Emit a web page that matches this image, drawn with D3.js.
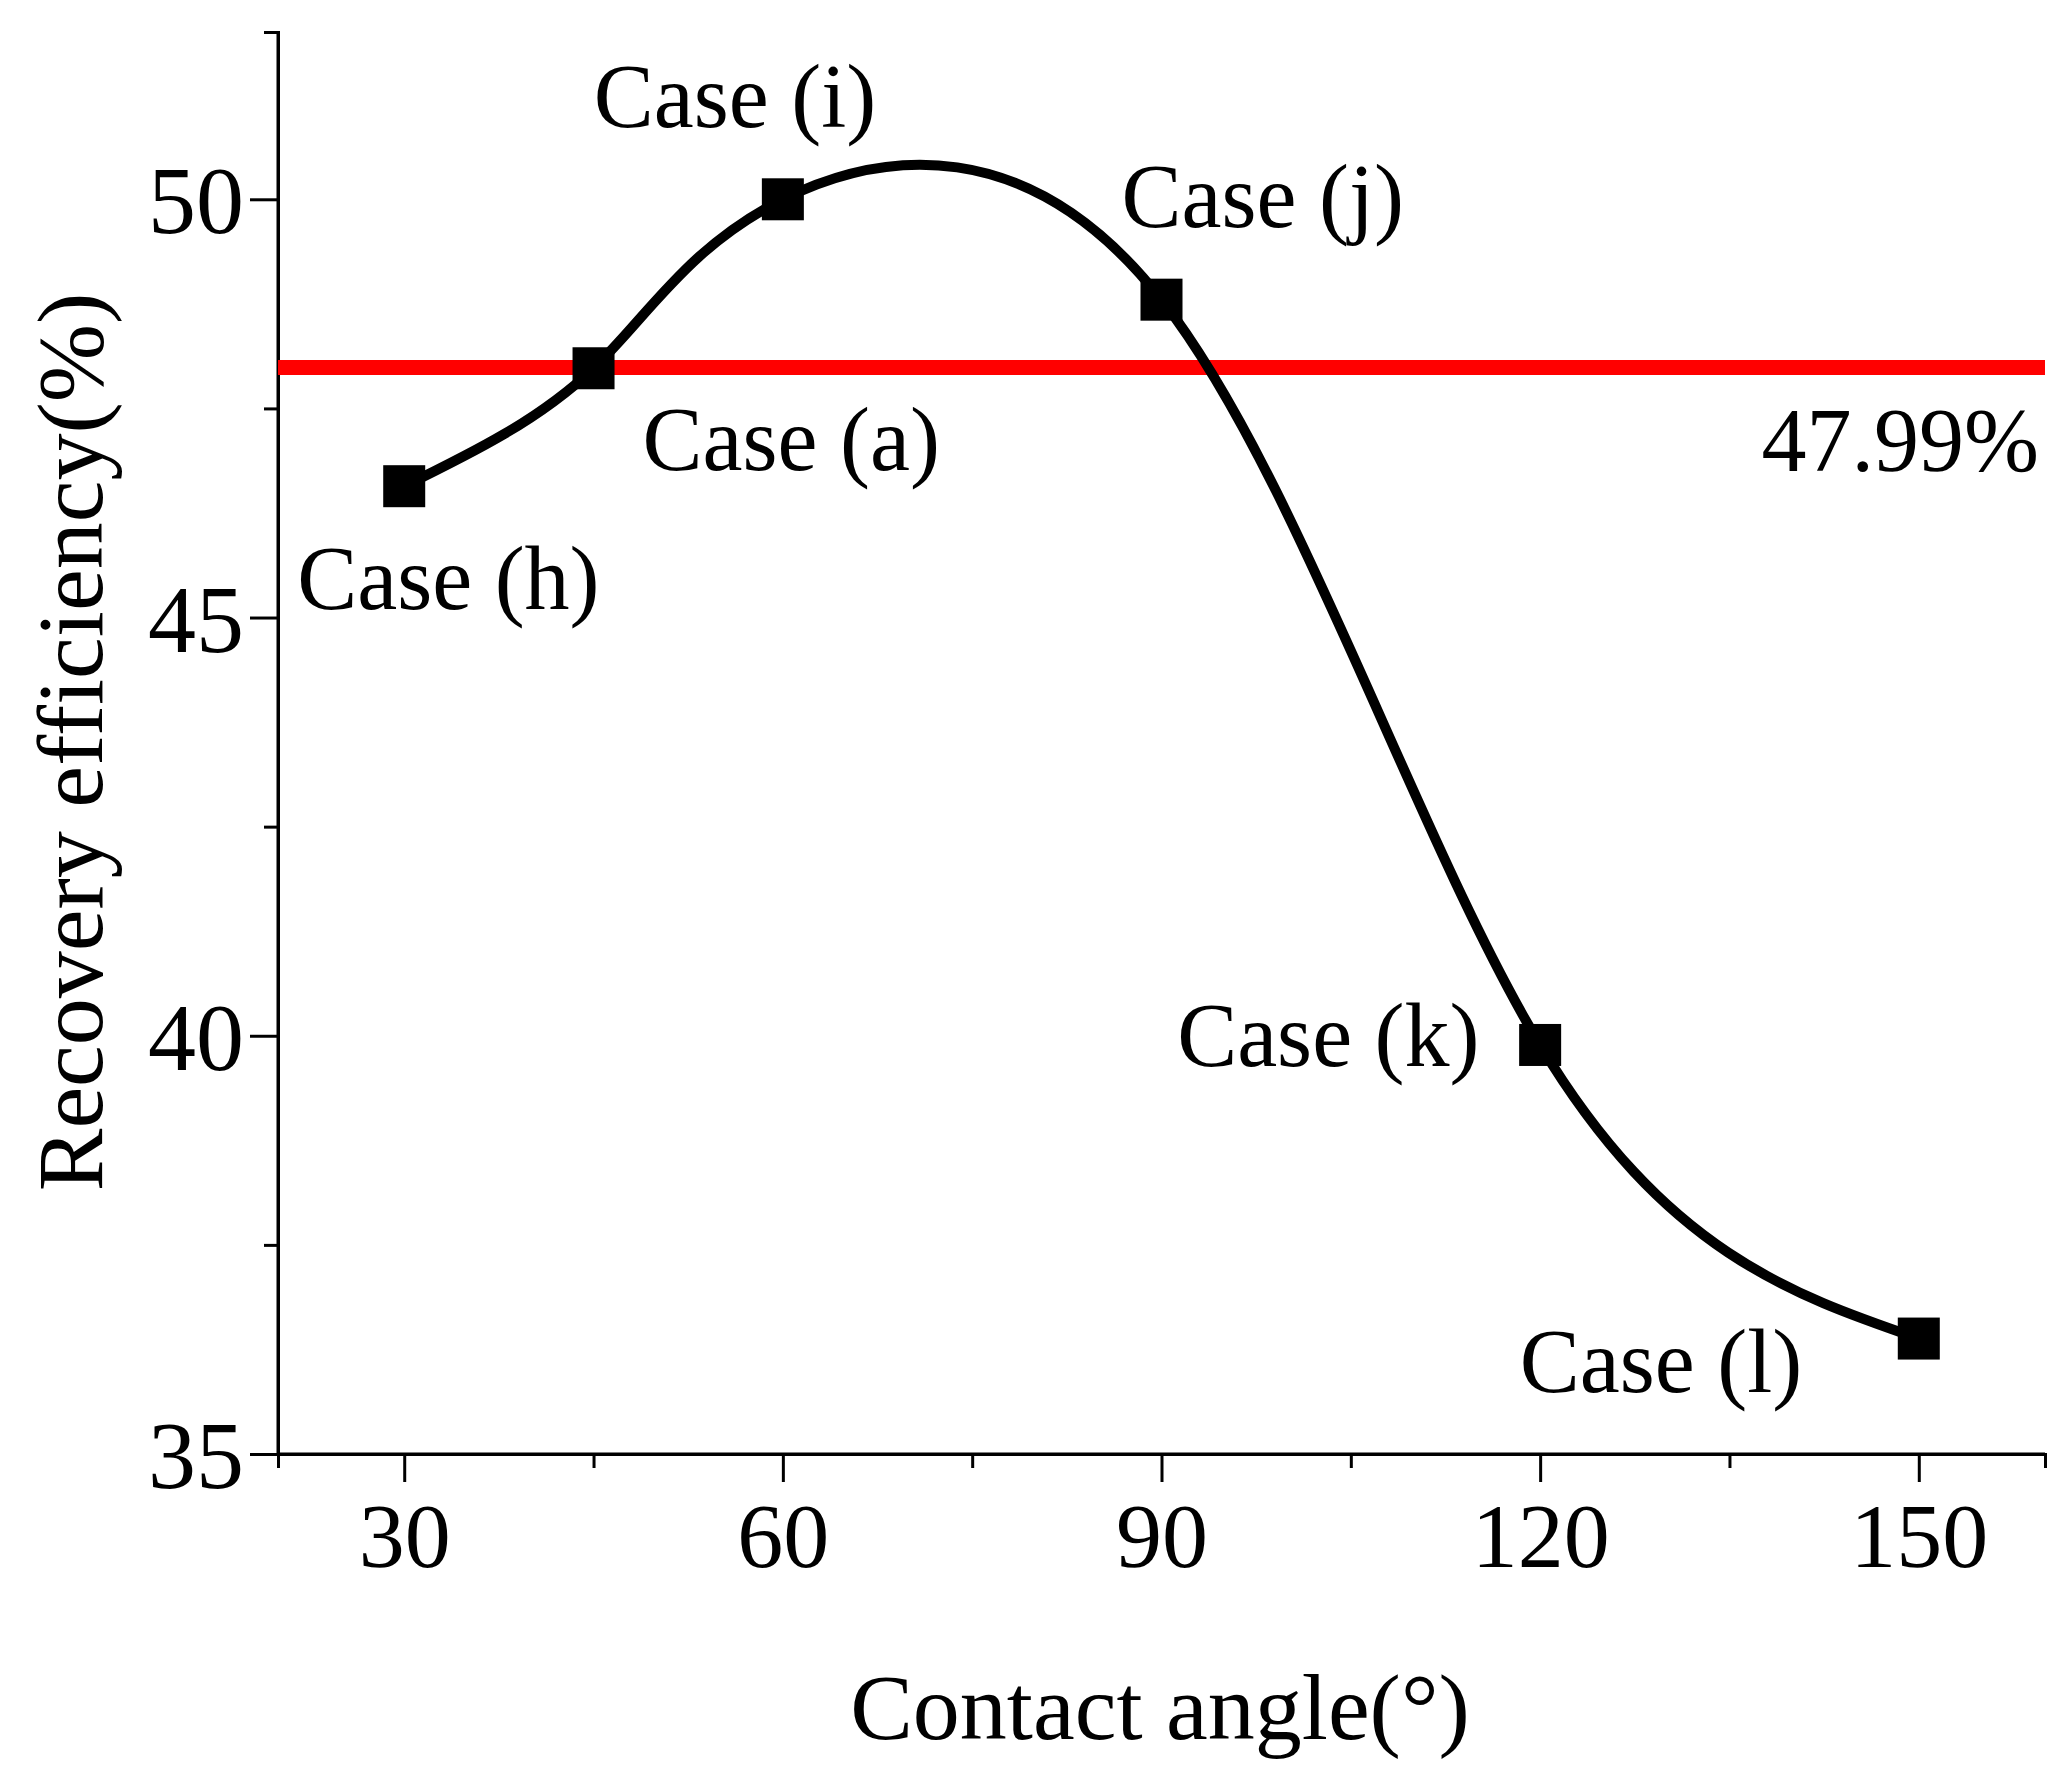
<!DOCTYPE html>
<html><head><meta charset="utf-8">
<script src="https://cdn.jsdelivr.net/npm/d3@7"></script>
<style>body{margin:0;background:#fff}</style></head>
<body><svg id="c" width="2068" height="1779"></svg>
<script>
const angles=[30,45,60,90,120,150];
const efficiency=[46.57,47.98,50.0,48.8,39.89,36.38];
const caseLabels=["Case (h)","Case (a)","Case (i)","Case (j)","Case (k)","Case (l)"];
const baseline=47.99;
const baselineLabel="47.99%";
const xTicks=[30,60,90,120,150];
const xMinor=[45,75,105,135];
const yTicks=[35,40,45,50];
const yMinor=[37.5,42.5,47.5];
const labelOffsets={"Case (h)":[-107,123],"Case (a)":[49,102],"Case (i)":[-189,-72],"Case (j)":[-40,-73],"Case (k)":[-363,21],"Case (l)":[-399,53]};

const svg=d3.select("#c");
const font="Liberation Serif, Times New Roman, serif";
const x=d3.scaleLinear().domain([20,160]).range([278,2045]);
const y=d3.scaleLinear().domain([35,52]).range([1454,32]);
const g=svg.append("g").attr("font-family",font);

const xa=g.append("g").attr("transform","translate(0,1454)");
xa.call(d3.axisBottom(x).tickValues(xTicks).tickSize(28).tickPadding(20).tickFormat(d3.format("d")));
xa.append("g").call(d3.axisBottom(x).tickValues(xMinor).tickSize(14).tickFormat(""));
const ya=g.append("g").attr("transform","translate(278,0)");
ya.call(d3.axisLeft(y).tickValues(yTicks).tickSize(28).tickPadding(6).tickFormat(d3.format("d")));
ya.append("g").call(d3.axisLeft(y).tickValues(yMinor).tickSize(14).tickFormat(""));
svg.selectAll(".domain").attr("stroke","#000").attr("stroke-width",3);
svg.selectAll(".tick line").attr("stroke","#000").attr("stroke-width",3);
xa.selectAll("text").attr("font-size",92).attr("font-family",font).attr("fill","#000");
ya.selectAll("text").attr("font-size",96).attr("font-family",font).attr("fill","#000").attr("dy","0.35em");
ya.select(".domain").attr("d","M0,1454V32");
xa.select(".domain").attr("d","M278,0H2045");

g.append("line").attr("x1",x(20)).attr("x2",x(160)).attr("y1",y(baseline)).attr("y2",y(baseline))
 .attr("stroke","#ff0000").attr("stroke-width",15);
g.append("text").attr("x",2039).attr("y",y(baseline)+104).attr("text-anchor","end")
 .attr("font-size",90).text(baselineLabel);

const pts=angles.map((a,i)=>[a,efficiency[i]]);
g.append("path").datum(pts).attr("fill","none").attr("stroke","#000").attr("stroke-width",10)
 .attr("d",d3.line().x(d=>x(d[0])).y(d=>y(d[1])).curve(d3.curveNatural));
g.selectAll("rect.m").data(pts).join("rect").attr("x",d=>x(d[0])-21).attr("y",d=>y(d[1])-21)
 .attr("width",42).attr("height",42).attr("fill","#000");
g.selectAll("text.lab").data(pts).join("text").attr("class","lab")
 .attr("x",(d,i)=>x(d[0])+labelOffsets[caseLabels[i]][0])
 .attr("y",(d,i)=>y(d[1])+labelOffsets[caseLabels[i]][1])
 .attr("font-size",90).text((d,i)=>caseLabels[i]);

g.append("text").attr("x",1160).attr("y",1739).attr("text-anchor","middle").attr("font-size",94).text("Contact angle(°)");
g.append("text").attr("transform","translate(102,742) rotate(-90)").attr("text-anchor","middle").attr("font-size",94).text("Recovery efficiency(%)");
</script></body></html>
